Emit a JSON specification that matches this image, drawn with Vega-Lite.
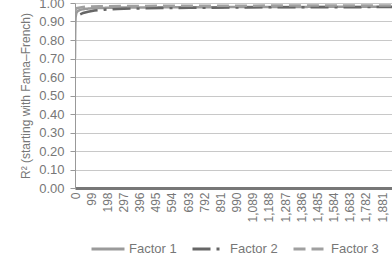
{
  "$schema": "https://vega.github.io/schema/vega-lite/v6.json",
  "width": 317,
  "height": 185,
  "autosize": {"type": "none"},
  "padding": {"left": 75, "top": 3, "right": 0, "bottom": 67},
  "background": "white",
  "config": {
    "view": {"stroke": null},
    "font": "Liberation Sans",
    "axis": {"labelFont": "Liberation Sans", "titleFont": "Liberation Sans"},
    "legend": {"labelFont": "Liberation Sans"}
  },
  "data": {
    "values": [
      {"x": 0, "y": 0.70, "series": "Factor 1"},
      {"x": 1, "y": 0.83, "series": "Factor 1"},
      {"x": 2, "y": 0.89, "series": "Factor 1"},
      {"x": 4, "y": 0.925, "series": "Factor 1"},
      {"x": 8, "y": 0.945, "series": "Factor 1"},
      {"x": 15, "y": 0.955, "series": "Factor 1"},
      {"x": 30, "y": 0.963, "series": "Factor 1"},
      {"x": 60, "y": 0.968, "series": "Factor 1"},
      {"x": 100, "y": 0.971, "series": "Factor 1"},
      {"x": 150, "y": 0.973, "series": "Factor 1"},
      {"x": 250, "y": 0.975, "series": "Factor 1"},
      {"x": 400, "y": 0.976, "series": "Factor 1"},
      {"x": 700, "y": 0.977, "series": "Factor 1"},
      {"x": 1000, "y": 0.978, "series": "Factor 1"},
      {"x": 1400, "y": 0.979, "series": "Factor 1"},
      {"x": 1942, "y": 0.980, "series": "Factor 1"},
      {"x": 32, "y": 0.938, "series": "Factor 2"},
      {"x": 50, "y": 0.946, "series": "Factor 2"},
      {"x": 80, "y": 0.953, "series": "Factor 2"},
      {"x": 120, "y": 0.959, "series": "Factor 2"},
      {"x": 180, "y": 0.964, "series": "Factor 2"},
      {"x": 260, "y": 0.968, "series": "Factor 2"},
      {"x": 400, "y": 0.971, "series": "Factor 2"},
      {"x": 700, "y": 0.974, "series": "Factor 2"},
      {"x": 1000, "y": 0.976, "series": "Factor 2"},
      {"x": 1400, "y": 0.977, "series": "Factor 2"},
      {"x": 1942, "y": 0.978, "series": "Factor 2"},
      {"x": 0, "y": 0.955, "series": "Factor 3"},
      {"x": 10, "y": 0.972, "series": "Factor 3"},
      {"x": 50, "y": 0.979, "series": "Factor 3"},
      {"x": 150, "y": 0.982, "series": "Factor 3"},
      {"x": 300, "y": 0.984, "series": "Factor 3"},
      {"x": 700, "y": 0.985, "series": "Factor 3"},
      {"x": 1200, "y": 0.986, "series": "Factor 3"},
      {"x": 1942, "y": 0.987, "series": "Factor 3"}
    ]
  },
  "mark": {"type": "line", "strokeWidth": 2.5, "clip": true},
  "encoding": {
    "x": {
      "field": "x",
      "type": "quantitative",
      "scale": {"domain": [0, 1942], "nice": false, "zero": false},
      "axis": {
        "values": [0, 99, 198, 297, 396, 495, 594, 693, 792, 891, 990, 1089, 1188, 1287, 1386, 1485, 1584, 1683, 1782, 1881],
        "format": ",d",
        "labelAngle": 270,
        "labelFontSize": 12,
        "labelColor": "#777",
        "labelPadding": 4,
        "ticks": false,
        "grid": false,
        "domainColor": "#777",
        "domainWidth": 3,
        "title": null,
        "labelOverlap": false,
        "labelFlush": false
      }
    },
    "y": {
      "field": "y",
      "type": "quantitative",
      "scale": {"domain": [0, 1], "nice": false},
      "axis": {
        "values": [0, 0.1, 0.2, 0.3, 0.4, 0.5, 0.6, 0.7, 0.8, 0.9, 1.0],
        "format": ".2f",
        "labelFontSize": 13,
        "labelColor": "#777",
        "labelPadding": 6,
        "tickSize": 5,
        "tickColor": "#999",
        "domainColor": "#999",
        "gridColor": "#c8c8c8",
        "gridWidth": 1,
        "title": "R² (starting with Fama–French)",
        "titleFontSize": 12,
        "titleFontWeight": "normal",
        "titleColor": "#777",
        "titlePadding": 6,
        "labelFlush": false
      }
    },
    "color": {
      "field": "series",
      "type": "nominal",
      "scale": {"domain": ["Factor 1", "Factor 2", "Factor 3"], "range": ["#9a9a9a", "#666666", "#a0a0a0"]},
      "legend": {
        "orient": "none",
        "legendX": 15,
        "legendY": 228,
        "direction": "horizontal",
        "title": null,
        "symbolType": "stroke",
        "symbolSize": 1089,
        "symbolStrokeWidth": 3,
        "labelFontSize": 13,
        "labelColor": "#777",
        "labelOffset": 3,
        "columnPadding": 9
      }
    },
    "strokeDash": {
      "field": "series",
      "type": "nominal",
      "scale": {"domain": ["Factor 1", "Factor 2", "Factor 3"], "range": [[1, 0], [18, 6, 3, 6], [12, 6]]},
      "legend": null
    }
  }
}
